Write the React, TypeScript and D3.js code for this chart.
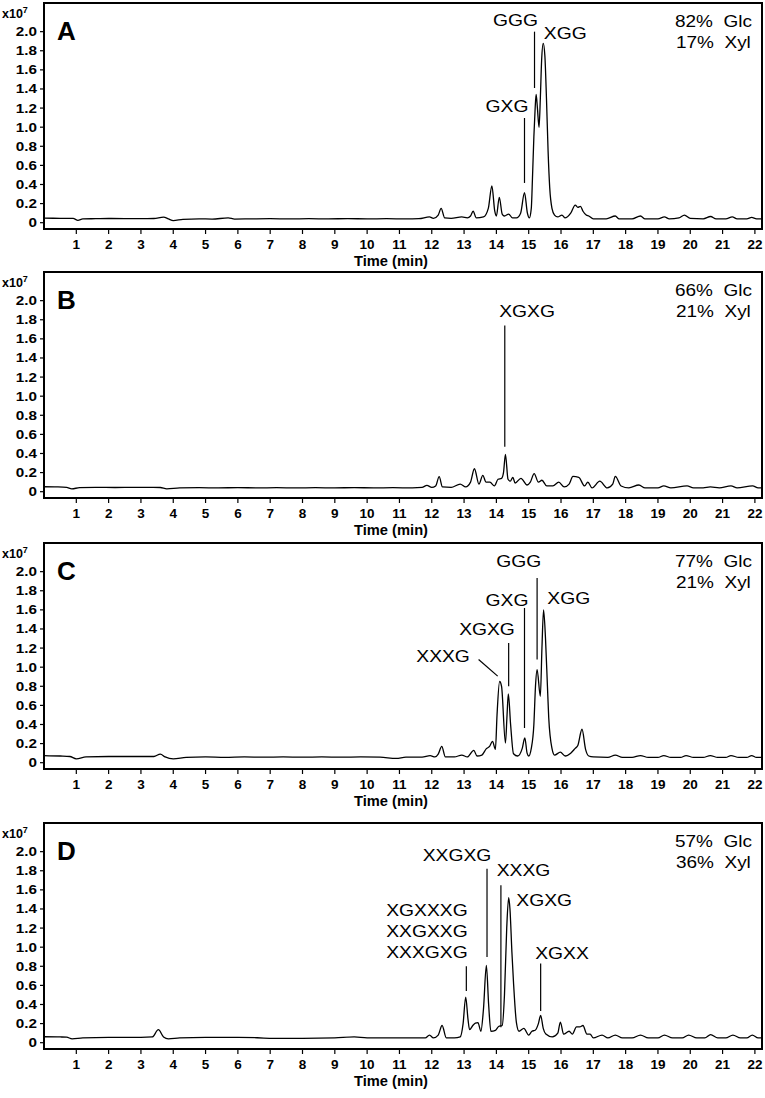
import React from "react";
import * as d3 from "d3";

// ---------- data ----------
const TIME_TICKS = d3.range(1, 23);
const INTENSITY_TICKS = [0, 0.2, 0.4, 0.6, 0.8, 1.0, 1.2, 1.4, 1.6, 1.8, 2.0];
const INTENSITY_LABELS = ["0", "0.2", "0.4", "0.6", "0.8", "1.0", "1.2", "1.4", "1.6", "1.8", "2.0"];

const PANEL_LETTERS = ["A", "B", "C", "D"];
const GLC = ["82% Glc", "66% Glc", "77% Glc", "57% Glc"];
const XYL = ["17% Xyl", "21% Xyl", "21% Xyl", "36% Xyl"];

// [time (min), intensity (x10^7)]
const TRACE_A: [number, number][] = [
  [0, 0.048], [0.5, 0.046], [0.9, 0.045], [1.05, 0.025], [1.2, 0.04], [1.6, 0.042], [2.0, 0.044], [2.5, 0.043],
  [3.0, 0.042], [3.4, 0.044], [3.7, 0.058], [3.85, 0.04], [4.0, 0.022], [4.3, 0.035], [4.8, 0.04], [5.2, 0.038],
  [5.7, 0.05], [5.9, 0.038], [6.4, 0.04], [7.0, 0.042], [7.6, 0.04], [8.2, 0.042], [8.8, 0.04], [9.4, 0.043],
  [10.0, 0.04], [10.6, 0.042], [11.2, 0.04], [11.6, 0.042], [11.93, 0.06], [12.05, 0.045], [12.2, 0.08],
  [12.29, 0.15], [12.4, 0.05], [12.6, 0.045], [12.93, 0.06], [13.1, 0.05], [13.2, 0.07], [13.28, 0.12],
  [13.38, 0.05], [13.6, 0.06], [13.75, 0.15], [13.86, 0.384], [13.95, 0.12], [14.0, 0.07], [14.09, 0.266],
  [14.18, 0.09], [14.25, 0.07], [14.38, 0.09], [14.5, 0.05], [14.62, 0.05], [14.75, 0.1], [14.87, 0.314],
  [14.96, 0.1], [15.02, 0.05], [15.08, 0.15], [15.12, 0.5], [15.16, 0.9], [15.2, 1.2], [15.23, 1.344],
  [15.27, 1.2], [15.32, 0.999], [15.36, 1.3], [15.4, 1.7], [15.45, 1.878], [15.5, 1.75], [15.55, 1.3],
  [15.6, 0.75], [15.65, 0.37], [15.72, 0.15], [15.8, 0.08], [15.9, 0.06], [16.03, 0.08], [16.12, 0.05],
  [16.3, 0.1], [16.44, 0.185], [16.52, 0.16], [16.6, 0.17], [16.68, 0.12], [16.78, 0.08], [16.86, 0.07],
  [17.0, 0.04], [17.4, 0.04], [17.68, 0.07], [17.8, 0.04], [18.2, 0.04], [18.46, 0.07], [18.6, 0.04],
  [19.0, 0.04], [19.2, 0.06], [19.35, 0.04], [19.65, 0.05], [19.82, 0.08], [20.0, 0.045], [20.4, 0.04],
  [20.63, 0.065], [20.8, 0.04], [21.1, 0.04], [21.3, 0.06], [21.45, 0.04], [21.75, 0.04], [21.9, 0.055],
  [22.05, 0.04], [22.22, 0.04],
];

const TRACE_B: [number, number][] = [
  [0, 0.052], [0.4, 0.05], [0.7, 0.045], [0.86, 0.03], [1.1, 0.042], [1.6, 0.045], [2.2, 0.044], [2.8, 0.046],
  [3.3, 0.045], [3.6, 0.044], [3.8, 0.03], [4.2, 0.04], [4.8, 0.042], [5.4, 0.04], [6.0, 0.043], [6.6, 0.04],
  [7.2, 0.042], [7.8, 0.04], [8.4, 0.042], [9.0, 0.04], [9.6, 0.043], [10.2, 0.04], [10.8, 0.042], [11.4, 0.04],
  [11.7, 0.045], [11.85, 0.066], [12.0, 0.045], [12.12, 0.06], [12.23, 0.157], [12.33, 0.05], [12.6, 0.045],
  [12.88, 0.08], [13.05, 0.05], [13.2, 0.1], [13.32, 0.24], [13.46, 0.08], [13.58, 0.17], [13.68, 0.1],
  [13.8, 0.1], [13.94, 0.06], [14.05, 0.13], [14.16, 0.14], [14.22, 0.2], [14.28, 0.39], [14.36, 0.13],
  [14.43, 0.11], [14.51, 0.15], [14.58, 0.09], [14.76, 0.14], [14.95, 0.07], [15.05, 0.1], [15.17, 0.19],
  [15.3, 0.1], [15.41, 0.12], [15.56, 0.06], [15.75, 0.06], [15.93, 0.1], [16.1, 0.05], [16.25, 0.08],
  [16.37, 0.16], [16.55, 0.15], [16.73, 0.06], [16.83, 0.1], [16.96, 0.04], [17.2, 0.11], [17.43, 0.04],
  [17.6, 0.08], [17.68, 0.16], [17.86, 0.06], [18.1, 0.04], [18.41, 0.07], [18.6, 0.04], [19.0, 0.04],
  [19.18, 0.06], [19.4, 0.04], [19.9, 0.06], [20.1, 0.04], [20.4, 0.04], [20.62, 0.05], [20.9, 0.04],
  [21.26, 0.06], [21.45, 0.04], [21.93, 0.06], [22.1, 0.04], [22.22, 0.04],
];

const TRACE_C: [number, number][] = [
  [0, 0.075], [0.5, 0.07], [0.8, 0.065], [1.0, 0.04], [1.3, 0.06], [2.0, 0.065], [2.8, 0.065], [3.4, 0.065],
  [3.6, 0.09], [3.75, 0.06], [4.0, 0.04], [4.4, 0.055], [5.0, 0.06], [5.6, 0.055], [6.2, 0.06], [6.8, 0.058],
  [7.4, 0.06], [8.0, 0.058], [8.6, 0.06], [9.2, 0.058], [9.8, 0.06], [10.4, 0.058], [10.9, 0.045], [11.2, 0.058],
  [11.7, 0.058], [11.95, 0.073], [12.1, 0.06], [12.2, 0.09], [12.31, 0.17], [12.42, 0.06], [12.7, 0.06],
  [12.93, 0.08], [13.1, 0.06], [13.3, 0.13], [13.4, 0.07], [13.55, 0.08], [13.69, 0.147], [13.79, 0.17],
  [13.88, 0.223], [13.97, 0.14], [14.02, 0.5], [14.1, 0.85], [14.16, 0.8], [14.28, 0.206], [14.33, 0.5],
  [14.37, 0.72], [14.44, 0.4], [14.53, 0.094], [14.66, 0.07], [14.8, 0.15], [14.88, 0.26], [14.95, 0.1],
  [15.0, 0.07], [15.08, 0.15], [15.16, 0.4], [15.21, 0.8], [15.26, 0.974], [15.36, 0.694], [15.41, 1.2],
  [15.46, 1.6], [15.52, 1.3], [15.58, 0.8], [15.62, 0.47], [15.72, 0.15], [15.8, 0.08], [15.98, 0.11],
  [16.13, 0.07], [16.3, 0.1], [16.44, 0.15], [16.52, 0.18], [16.65, 0.35], [16.76, 0.14], [16.86, 0.07],
  [17.0, 0.06], [17.45, 0.055], [17.68, 0.08], [17.9, 0.055], [18.2, 0.055], [18.46, 0.075], [18.7, 0.055],
  [19.0, 0.055], [19.18, 0.075], [19.4, 0.055], [19.7, 0.055], [19.87, 0.075], [20.1, 0.055], [20.4, 0.055],
  [20.62, 0.075], [20.85, 0.055], [21.1, 0.055], [21.26, 0.075], [21.5, 0.055], [21.75, 0.055], [21.9, 0.075],
  [22.05, 0.055], [22.22, 0.055],
];

const TRACE_D: [number, number][] = [
  [0, 0.062], [0.5, 0.06], [0.7, 0.058], [0.87, 0.04], [1.2, 0.05], [2.0, 0.055], [2.6, 0.055], [3.0, 0.055],
  [3.35, 0.06], [3.54, 0.136], [3.7, 0.06], [3.85, 0.04], [4.2, 0.05], [5.0, 0.055], [6.0, 0.055], [6.6, 0.052],
  [7.1, 0.045], [8.0, 0.045], [9.0, 0.05], [9.6, 0.06], [10.0, 0.05], [11.0, 0.05], [11.5, 0.05], [11.8, 0.05],
  [11.93, 0.08], [12.05, 0.05], [12.2, 0.08], [12.32, 0.18], [12.45, 0.05], [12.7, 0.05], [12.88, 0.06],
  [12.97, 0.2], [13.05, 0.478], [13.12, 0.25], [13.17, 0.136], [13.27, 0.18], [13.35, 0.205], [13.43, 0.21],
  [13.52, 0.12], [13.6, 0.35], [13.69, 0.81], [13.76, 0.4], [13.83, 0.12], [13.97, 0.13], [14.07, 0.17],
  [14.18, 0.18], [14.25, 0.5], [14.32, 1.2], [14.38, 1.518], [14.42, 1.4], [14.48, 0.95], [14.53, 0.63],
  [14.62, 0.21], [14.7, 0.12], [14.85, 0.15], [15.0, 0.08], [15.1, 0.12], [15.2, 0.13], [15.3, 0.2],
  [15.37, 0.286], [15.45, 0.15], [15.53, 0.09], [15.73, 0.06], [15.9, 0.1], [15.98, 0.216], [16.08, 0.09],
  [16.25, 0.12], [16.35, 0.09], [16.48, 0.165], [16.58, 0.165], [16.68, 0.18], [16.8, 0.09], [16.9, 0.09],
  [17.0, 0.05], [17.27, 0.08], [17.45, 0.05], [17.68, 0.08], [17.9, 0.05], [18.2, 0.05], [18.46, 0.08],
  [18.7, 0.05], [19.0, 0.05], [19.2, 0.08], [19.45, 0.05], [19.75, 0.05], [19.95, 0.08], [20.2, 0.05],
  [20.45, 0.05], [20.63, 0.085], [20.85, 0.05], [21.1, 0.05], [21.32, 0.08], [21.55, 0.05], [21.75, 0.05],
  [21.92, 0.08], [22.1, 0.05], [22.22, 0.05],
];

const TRACES = [TRACE_A, TRACE_B, TRACE_C, TRACE_D];

// peak annotations: label text lines, label anchor (time, intensity of first baseline), leader line
type Note = { lines: string[]; t: number; v: number; leader?: [number, number, number, number] };
const NOTES_A: Note[] = [
  { lines: ["GGG"], t: 14.59, v: 2.06, leader: [15.18, 2.0, 15.18, 1.41] },
  { lines: ["XGG"], t: 16.13, v: 1.92 },
  { lines: ["GXG"], t: 14.33, v: 1.154, leader: [14.87, 1.096, 14.87, 0.416] },
];
const NOTES_B: Note[] = [
  { lines: ["XGXG"], t: 14.95, v: 1.83, leader: [14.26, 1.74, 14.26, 0.47] },
];
const NOTES_C: Note[] = [
  { lines: ["GGG"], t: 14.69, v: 2.047, leader: [15.26, 1.934, 15.26, 1.08] },
  { lines: ["XGG"], t: 16.24, v: 1.665 },
  { lines: ["GXG"], t: 14.33, v: 1.639, leader: [14.87, 1.62, 14.87, 0.363] },
  { lines: ["XGXG"], t: 13.71, v: 1.34, leader: [14.38, 1.253, 14.38, 0.8] },
  { lines: ["XXXG"], t: 12.35, v: 1.058, leader: [13.45, 1.08, 14.04, 0.906] },
];
const NOTES_D: Note[] = [
  { lines: ["XXGXG"], t: 12.78, v: 1.9, leader: [13.71, 1.822, 13.71, 0.896] },
  { lines: ["XXXG"], t: 14.84, v: 1.741, leader: [14.14, 1.648, 14.14, 0.163] },
  { lines: ["XGXG"], t: 15.48, v: 1.432 },
  { lines: ["XGXXXG", "XXGXXG", "XXXGXG"], t: 11.85, v: 1.323, leader: [13.07, 0.8, 13.07, 0.54] },
  { lines: ["XGXX"], t: 16.03, v: 0.877, leader: [15.37, 0.83, 15.37, 0.331] },
];
const NOTES = [NOTES_A, NOTES_B, NOTES_C, NOTES_D];

// ---------- layout ----------
const W = 765;
const H = 1098;
const PLOT_LEFT = 44;
const PLOT_RIGHT = 762;
const PANEL_TOPS = [3, 272, 543, 823];
const PANEL_H = 226;
const FONT = "'Liberation Sans', Arial, Helvetica, sans-serif";

const x = d3.scaleLinear().domain([0, 22.22]).range([PLOT_LEFT, PLOT_RIGHT]);

function SText(props: {
  x: number; y: number; sx?: number; size: number; bold?: boolean;
  anchor?: "start" | "middle" | "end"; children: React.ReactNode;
}) {
  const { sx = 1, size, bold, anchor = "start" } = props;
  return (
    <text
      transform={`translate(${props.x},${props.y}) scale(${sx},1)`}
      fontSize={size}
      fontWeight={bold ? "bold" : "normal"}
      textAnchor={anchor}
      fontFamily={FONT}
      fill="#000"
      style={{ whiteSpace: "pre" }}
    >
      {props.children}
    </text>
  );
}

function Panel({ idx }: { idx: number }) {
  const top = PANEL_TOPS[idx];
  const bottom = top + PANEL_H;
  const y = d3.scaleLinear().domain([-0.066, 2.3]).range([bottom, top]);
  const line = d3
    .line<[number, number]>()
    .x((d) => x(d[0]))
    .y((d) => y(d[1]))
    .curve(d3.curveMonotoneX);
  const path = line(TRACES[idx]) || "";
  const annStretch = 1.17;
  return (
    <g>
      {/* trace */}
      <path d={path} fill="none" stroke="#000" strokeWidth={1.3} strokeLinejoin="round" />
      {/* frame */}
      <rect x={PLOT_LEFT} y={top} width={PLOT_RIGHT - PLOT_LEFT} height={PANEL_H} fill="none" stroke="#000" strokeWidth={2} />
      {/* y ticks */}
      {INTENSITY_TICKS.map((v, i) => (
        <g key={"y" + i}>
          <line x1={PLOT_LEFT - 4} x2={PLOT_LEFT} y1={y(v)} y2={y(v)} stroke="#000" strokeWidth={1.2} />
          <SText x={37} y={y(v) + 4.5} size={12.5} bold anchor="end" sx={1.22}>
            {INTENSITY_LABELS[i]}
          </SText>
        </g>
      ))}
      {/* x ticks */}
      {TIME_TICKS.map((t) => (
        <g key={"x" + t}>
          <line x1={x(t)} x2={x(t)} y1={bottom} y2={bottom + 5} stroke="#000" strokeWidth={1.2} />
          <SText x={x(t)} y={bottom + 19.5} size={13.5} bold anchor="middle">
            {String(t)}
          </SText>
        </g>
      ))}
      <SText x={391} y={bottom + 37} size={14} bold anchor="middle" sx={1.05}>
        Time (min)
      </SText>
      {/* exponent */}
      <text x={2} y={top + 14.5} fontSize={12.5} fontWeight="bold" fontFamily={FONT}>
        x10
        <tspan dy={-5} fontSize={9}>7</tspan>
      </text>
      {/* panel letter */}
      <SText x={57} y={top + 37} size={26} bold>
        {PANEL_LETTERS[idx]}
      </SText>
      {/* composition */}
      <SText x={675} y={top + 24} size={16.5} sx={1.15}>
        {GLC[idx].replace(" ", "\u00A0\u00A0")}
      </SText>
      <SText x={676} y={top + 45} size={16.5} sx={1.15}>
        {XYL[idx].replace(" ", "\u00A0\u00A0")}
      </SText>
      {/* annotations */}
      {NOTES[idx].map((n, k) => (
        <g key={"n" + k}>
          {n.lines.map((s, j) => (
            <SText key={j} x={x(n.t)} y={y(n.v) + j * 20.8} size={16.5} anchor="middle" sx={annStretch}>
              {s}
            </SText>
          ))}
          {n.leader && (
            <line
              x1={x(n.leader[0])}
              y1={y(n.leader[1])}
              x2={x(n.leader[2])}
              y2={y(n.leader[3])}
              stroke="#000"
              strokeWidth={1.2}
            />
          )}
        </g>
      ))}
    </g>
  );
}

export default function App() {
  return (
    <svg
      width={W}
      height={H}
      viewBox={`0 0 ${W} ${H}`}
      style={{ position: "absolute", left: 0, top: 0, background: "#fff" }}
    >
      <rect x={0} y={0} width={W} height={H} fill="#fff" />
      {PANEL_LETTERS.map((_, i) => (
        <Panel key={i} idx={i} />
      ))}
    </svg>
  );
}
